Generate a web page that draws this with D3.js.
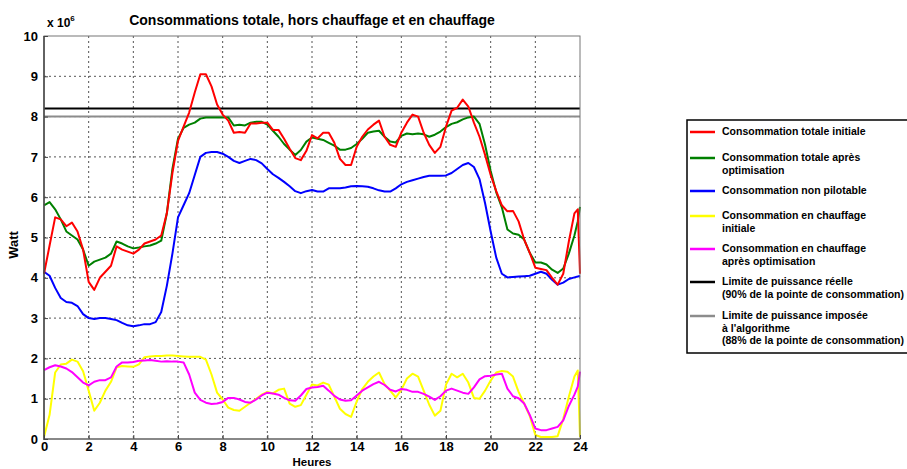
<!DOCTYPE html>
<html><head><meta charset="utf-8">
<script src="https://cdn.jsdelivr.net/npm/d3@7/dist/d3.min.js"></script>
<style>html,body{margin:0;padding:0;background:#fff;}svg{display:block;font-family:"Liberation Sans",Arial,sans-serif;}</style>
</head><body><svg id="c" width="907" height="469"></svg>
<script>
const hours = [0,0.25,0.5,0.75,1,1.25,1.5,1.75,2,2.25,2.5,2.75,3,3.25,3.5,3.75,4,4.25,4.5,4.75,5,5.25,5.5,5.75,6,6.25,6.5,6.75,7,7.25,7.5,7.75,8,8.25,8.5,8.75,9,9.25,9.5,9.75,10,10.25,10.5,10.75,11,11.25,11.5,11.75,12,12.25,12.5,12.75,13,13.25,13.5,13.75,14,14.25,14.5,14.75,15,15.25,15.5,15.75,16,16.25,16.5,16.75,17,17.25,17.5,17.75,18,18.25,18.5,18.75,19,19.25,19.5,19.75,20,20.25,20.5,20.75,21,21.25,21.5,21.75,22,22.25,22.5,22.75,23,23.25,23.5,23.75,23.9,24];

const totalInitiale = [4.1,4.8,5.5,5.45,5.28,5.37,5.15,4.7,3.9,3.7,4.0,4.15,4.3,4.78,4.7,4.65,4.6,4.7,4.85,4.9,4.95,5.05,5.6,6.6,7.4,7.75,8.1,8.6,9.05,9.05,8.75,8.3,8.05,7.9,7.6,7.62,7.6,7.83,7.83,7.85,7.85,7.67,7.67,7.45,7.2,6.97,6.92,7.15,7.54,7.46,7.6,7.6,7.35,6.95,6.8,6.8,7.25,7.5,7.68,7.8,7.9,7.5,7.3,7.25,7.6,7.85,8.05,8.0,7.6,7.3,7.1,7.25,7.75,8.15,8.22,8.42,8.25,7.85,7.5,7.05,6.55,6.15,5.8,5.65,5.66,5.4,4.95,4.62,4.25,4.22,4.19,4.0,3.83,4.1,4.9,5.6,5.7,4.1];

const totaleOptimisee = [5.8,5.88,5.7,5.45,5.15,5.05,4.95,4.7,4.3,4.4,4.45,4.5,4.6,4.9,4.85,4.78,4.73,4.75,4.78,4.8,4.85,4.92,5.6,6.7,7.45,7.72,7.8,7.85,7.95,7.98,7.98,7.98,7.98,7.98,7.78,7.8,7.78,7.85,7.87,7.87,7.8,7.65,7.5,7.32,7.18,7.05,7.17,7.38,7.48,7.45,7.42,7.35,7.28,7.18,7.18,7.22,7.32,7.45,7.6,7.63,7.65,7.5,7.38,7.36,7.52,7.58,7.56,7.58,7.56,7.5,7.55,7.63,7.74,7.82,7.86,7.93,7.98,8.0,7.82,7.3,6.65,6.12,5.75,5.2,5.1,5.07,4.95,4.62,4.38,4.38,4.33,4.2,4.12,4.23,4.6,5.05,5.4,5.76];

const nonPilotable = [4.15,4.05,3.75,3.5,3.4,3.38,3.3,3.1,3.0,2.98,3.0,3.0,2.98,2.95,2.88,2.82,2.8,2.82,2.85,2.85,2.9,3.15,3.8,4.6,5.5,5.8,6.1,6.55,7.0,7.1,7.12,7.12,7.08,7.0,6.9,6.85,6.9,6.95,6.92,6.84,6.7,6.57,6.48,6.38,6.27,6.15,6.1,6.15,6.18,6.14,6.14,6.22,6.22,6.22,6.24,6.27,6.28,6.27,6.26,6.22,6.17,6.14,6.14,6.22,6.32,6.38,6.42,6.46,6.5,6.53,6.53,6.53,6.54,6.6,6.7,6.8,6.85,6.75,6.45,5.85,5.15,4.5,4.1,4.01,4.02,4.03,4.04,4.05,4.1,4.15,4.1,3.95,3.83,3.88,3.97,4.01,4.03,4.05];

const chauffageInitiale = [0.05,0.6,1.65,1.85,1.87,1.97,1.92,1.68,1.2,0.7,0.9,1.2,1.42,1.78,1.81,1.8,1.79,1.85,2.03,2.05,2.06,2.06,2.07,2.07,2.06,2.05,2.04,2.04,2.04,1.97,1.6,1.15,0.98,0.78,0.72,0.7,0.8,0.9,1.0,1.1,1.17,1.13,1.22,1.25,0.88,0.8,0.84,1.1,1.35,1.33,1.4,1.35,1.05,0.75,0.62,0.55,0.93,1.24,1.42,1.55,1.65,1.36,1.2,1.03,1.22,1.5,1.62,1.55,1.2,0.85,0.58,0.7,1.35,1.62,1.53,1.62,1.4,1.02,1.0,1.2,1.45,1.65,1.69,1.67,1.55,1.17,0.88,0.57,0.1,0.05,0.05,0.05,0.07,0.5,1.05,1.55,1.7,0.05];

const chauffageOptimisee = [1.71,1.78,1.83,1.8,1.75,1.66,1.53,1.4,1.33,1.42,1.46,1.46,1.53,1.8,1.9,1.9,1.91,1.94,1.95,1.96,1.94,1.92,1.93,1.92,1.92,1.9,1.6,1.15,0.97,0.9,0.87,0.88,0.92,1.02,1.02,0.98,0.92,0.9,0.98,1.08,1.15,1.13,1.1,1.02,0.96,0.95,1.08,1.24,1.28,1.29,1.32,1.2,1.07,0.98,0.95,0.96,1.08,1.2,1.28,1.36,1.42,1.34,1.22,1.18,1.24,1.22,1.17,1.17,1.12,1.05,0.97,1.06,1.2,1.25,1.2,1.15,1.12,1.28,1.48,1.56,1.57,1.6,1.62,1.25,1.06,1.01,0.88,0.6,0.26,0.22,0.22,0.26,0.3,0.46,0.82,1.1,1.3,1.67];

const limiteReelle = 8.2;
const limiteImposee = 8.0;

const xTicks = [0,2,4,6,8,10,12,14,16,18,20,22,24];
const yTicks = [0,1,2,3,4,5,6,7,8,9,10];

const seriesNames = ["Consommation totale initiale","Consommation totale après\noptimisation","Consommation non pilotable","Consommation en chauffage\ninitiale","Consommation en chauffage\naprès optimisation"];
const limitNames = ["Limite de puissance réelle\n(90% de la pointe de consommation)","Limite de puissance imposée\nà l'algorithme\n(88% de la pointe de consommation)"];
const titleText = "Consommations totale, hors chauffage et en chauffage";
const xLabel = "Heures";
const yLabel = "Watt";

const seriesValues = [totalInitiale, totaleOptimisee, nonPilotable, chauffageInitiale, chauffageOptimisee];
const seriesColors = ["#ff0000","#008000","#0000ff","#ffff00","#ff00ff"];
const limitValues = [limiteReelle, limiteImposee];
const limitColors = ["#000000","#8c8c8c"];

const svg = d3.select("#c");
const L = 44, R = 580, T = 36, B = 439;
const x = d3.scaleLinear().domain([0,24]).range([L,R]);
const y = d3.scaleLinear().domain([0,10]).range([B,T]);

// grid
const grid = svg.append("g");
grid.selectAll("line.gx").data(xTicks.slice(1,-1)).join("line")
  .attr("x1",d=>x(d)).attr("x2",d=>x(d)).attr("y1",T).attr("y2",B)
  .attr("stroke","#555").attr("stroke-width",1).attr("stroke-dasharray","2,3");
grid.selectAll("line.gy").data(yTicks.slice(1,-1)).join("line")
  .attr("x1",L).attr("x2",R).attr("y1",d=>y(d)).attr("y2",d=>y(d))
  .attr("stroke","#555").attr("stroke-width",1).attr("stroke-dasharray","2,3");

// limit lines
svg.selectAll("line.lim").data(limitValues).join("line")
  .attr("x1",L).attr("x2",R).attr("y1",d=>y(d)).attr("y2",d=>y(d))
  .attr("stroke",(d,i)=>limitColors[i]).attr("stroke-width",2);

// series
const line = d3.line().x((d,i)=>x(hours[i])).y(d=>y(d));
const order = [3,4,2,1,0];
svg.append("g").selectAll("path").data(order).join("path")
  .attr("d",i=>line(seriesValues[i])).attr("fill","none")
  .attr("stroke",i=>seriesColors[i]).attr("stroke-width",2).attr("stroke-linejoin","round");

// axes box
svg.append("rect").attr("x",L).attr("y",T).attr("width",R-L).attr("height",B-T)
  .attr("fill","none").attr("stroke","#777").attr("stroke-width",1);
svg.append("line").attr("x1",L).attr("x2",L).attr("y1",T).attr("y2",B+1).attr("stroke","#444").attr("stroke-width",1.5);
svg.append("line").attr("x1",L).attr("x2",R).attr("y1",B).attr("y2",B).attr("stroke","#777").attr("stroke-width",1.5);

const xAxis = d3.axisBottom(x).tickValues(xTicks).tickSize(-4).tickPadding(3).tickFormat(d3.format("d"));
const gx = svg.append("g").attr("transform",`translate(0,${B})`).call(xAxis);
gx.select(".domain").remove();
gx.selectAll(".tick line").attr("stroke","#444");
gx.selectAll("text").attr("font-size",13).attr("font-weight","bold").attr("fill","#000")
  .attr("font-family","'Liberation Sans',Arial,sans-serif");

const yAxis = d3.axisLeft(y).tickValues(yTicks).tickSize(-4).tickPadding(6).tickFormat(d3.format("d"));
const gy = svg.append("g").attr("transform",`translate(${L},0)`).call(yAxis);
gy.select(".domain").remove();
gy.selectAll(".tick line").attr("stroke","#444");
gy.selectAll("text").attr("font-size",13).attr("font-weight","bold").attr("fill","#000")
  .attr("font-family","'Liberation Sans',Arial,sans-serif");

// title and labels
svg.append("text").attr("x",(L+R)/2).attr("y",25).attr("text-anchor","middle")
  .attr("font-size",14).attr("font-weight","bold").text(titleText);
const ex = svg.append("text").attr("x",47).attr("y",27).attr("font-size",12).attr("font-weight","bold");
ex.append("tspan").text("x 10");
ex.append("tspan").attr("dy",-6).attr("font-size",8).text("6");
svg.append("text").attr("x",(L+R)/2).attr("y",465.5).attr("text-anchor","middle")
  .attr("font-size",11.5).attr("font-weight","bold").text(xLabel);
svg.append("text").attr("transform","translate(18,245) rotate(-90)").attr("text-anchor","middle")
  .attr("font-size",13).attr("font-weight","bold").text(yLabel);

// legend
const lg = svg.append("g");
lg.append("rect").attr("x",687).attr("y",120).attr("width",225).attr("height",233)
  .attr("fill","#fff").attr("stroke","#000").attr("stroke-width",1.5);
const entries = seriesNames.map((n,i)=>({name:n,color:seriesColors[i]}))
  .concat(limitNames.map((n,i)=>({name:n,color:limitColors[i]})));
const rowY = [131,157,190,215,248,281,315];
const lineGap = 12.5;
entries.forEach((e,i)=>{
  const cy = rowY[i];
  lg.append("line").attr("x1",690).attr("x2",715).attr("y1",cy+1).attr("y2",cy+1)
    .attr("stroke",e.color).attr("stroke-width",2.5);
  const t = lg.append("text").attr("x",722).attr("y",cy+4).attr("font-size",10.5).attr("font-weight","bold");
  e.name.split("\n").forEach((s,k)=>{
    t.append("tspan").attr("x",722).attr("dy",k===0?0:lineGap).text(s);
  });
});
</script></body></html>
